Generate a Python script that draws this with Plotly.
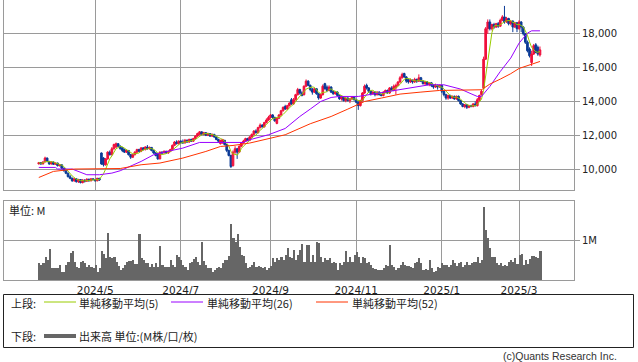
import pandas as pd
import plotly.graph_objects as go

W, H = 638, 362

# ---------------- data ----------------
holidays = ['2024-04-29', '2024-05-03', '2024-05-06', '2024-07-15', '2024-08-12',
            '2024-09-16', '2024-09-23', '2024-10-14', '2024-11-04', '2024-12-31',
            '2025-01-01', '2025-01-02', '2025-01-03', '2025-01-13', '2025-02-11',
            '2025-02-24']
dates = [d for d in pd.bdate_range('2024-03-22', '2025-03-17')
         if d.strftime('%Y-%m-%d') not in holidays]

opens = [10300,10380,10300,10420,10650,10450,10300,10420,10280,10350,
         10200,10250,10050,9900,9750,9550,9450,9300,9420,9250,
         9380,9200,9350,9280,9400,9300,9420,9380,9300,9450,
         10950,10650,10250,10600,11000,10850,11200,11300,11500,11350,
         11250,11150,11000,11100,10850,10700,10850,11000,11150,11050,
         11250,11150,11300,11200,11280,11100,10950,10900,10600,11000,
         10950,11050,10950,11050,11150,11400,11600,11500,11650,11600,
         11550,11700,11600,11750,11650,11800,11950,12050,12200,12050,
         12150,12000,12100,11950,12050,11900,11750,11500,11550,11700,
         11450,11100,10800,10200,11000,11200,11000,11350,11550,11650,
         11800,11700,11900,12050,12250,12150,12450,12600,12500,12750,
         12900,13050,13200,13050,12700,13000,13200,13450,13700,13550,
         13750,14100,13850,14100,14400,14700,14500,14400,14900,15200,
         14950,14700,14550,14750,14450,14200,14400,15050,14850,14650,
         14850,14600,14450,14550,14350,14150,14250,14050,14200,14050,
         14150,14250,14100,13950,13750,14050,14500,14950,14800,14600,
         14450,14550,14400,14550,14400,14350,14550,14650,14500,14800,
         14650,14800,14950,15150,15400,15650,15450,15300,15150,15250,
         15150,15300,15200,15400,15200,15050,15150,15000,15100,14950,
         14850,14950,14850,14950,14600,14400,14200,14350,14200,14300,
         14150,14300,14050,13850,13700,13800,13650,13750,13700,13850,
         13750,14100,14400,14800,16500,18300,18700,18300,18550,18400,
         18600,18450,18800,19000,18700,18900,18600,18750,18400,18650,
         18300,18700,18400,18000,17500,17100,16300,16800,17350,17200,
         16750]
highs = [10420,10400,10450,10730,10680,10480,10460,10440,10380,10380,
         10300,10270,10080,9950,9800,9650,9500,9480,9450,9420,
         9400,9400,9380,9450,9420,9460,9450,9420,9480,9480,
         10980,10700,10650,11050,11100,11300,11500,11570,11520,11400,
         11300,11200,11150,11120,10900,10900,11050,11200,11200,11300,
         11300,11350,11420,11330,11300,11150,11000,10950,11040,11050,
         11100,11080,11100,11200,11450,11650,11700,11700,11700,11750,
         11780,11750,11800,11800,11850,12000,12150,12250,12230,12200,
         12180,12150,12130,12100,12080,11950,11800,11730,11780,11720,
         11480,11150,10850,11100,11350,11250,11400,11600,11730,11850,
         11850,11950,12100,12300,12350,12500,12700,12650,12800,13000,
         13150,13250,13250,13100,13050,13250,13500,13700,13800,13800,
         13950,14200,14200,14450,14800,14750,14600,14950,15300,15250,
         15000,14800,14800,14780,14500,14450,15000,15100,14950,14950,
         14900,14650,14600,14600,14400,14300,14300,14250,14250,14200,
         14300,14300,14150,14000,14100,14550,15000,15050,14850,14650,
         14600,14600,14600,14600,14450,14600,14700,14700,14850,14900,
         15000,15050,15200,15500,15700,15700,15500,15350,15350,15300,
         15400,15350,15600,15450,15250,15200,15200,15150,15150,15000,
         15050,15000,15000,14950,14650,14450,14400,14400,14350,14350,
         14350,14350,14100,13900,13850,13850,13800,13800,13900,14000,
         14200,14400,14700,16650,18400,18850,18850,18600,18650,18650,
         18700,18900,19100,19650,19000,18950,18800,18800,18700,18700,
         18800,18750,18450,18050,17600,17200,17000,17400,17450,17300,
         17250]
lows = [10280,10260,10280,10400,10400,10250,10270,10240,10250,10150,
        10150,10000,9850,9700,9500,9400,9250,9250,9200,9180,
        9150,9150,9200,9250,9260,9280,9330,9270,9280,9300,
        10250,10150,10200,10550,10800,10800,11150,11250,11300,11150,
        11000,10950,10950,10800,10600,10650,10800,10950,11000,11000,
        11100,11100,11150,11150,11050,10900,10750,10550,10580,10900,
        10920,10900,10900,11000,11100,11350,11450,11450,11500,11500,
        11500,11550,11550,11600,11600,11750,11900,12000,12000,12000,
        11950,11950,11900,11900,11850,11700,11600,11450,11500,11400,
        11000,10750,10060,10150,10900,10600,10950,11300,11500,11600,
        11650,11650,11850,12000,12100,12100,12400,12450,12450,12700,
        12850,13000,12950,12800,12650,12950,13150,13400,13500,13500,
        13700,13800,13800,14050,14350,14400,14300,14350,14850,14900,
        14600,14400,14500,14400,14100,14150,14350,14700,14550,14600,
        14500,14400,14400,14300,14100,14050,14000,13950,14000,13900,
        14100,14050,13900,13500,13700,14000,14450,14700,14500,14350,
        14400,14300,14350,14350,14300,14300,14500,14450,14450,14600,
        14600,14400,14900,15100,15350,15400,15100,15050,15100,15050,
        15100,15100,15150,15150,15000,14950,14950,14900,14850,14750,
        14800,14700,14800,14500,14300,14100,14100,14150,14150,14100,
        14100,14000,13800,13650,13600,13550,13600,13650,13650,13700,
        13700,14000,14350,14750,16450,18000,18200,18200,18300,18350,
        18350,18400,18750,18600,18650,18500,18500,18100,18350,18100,
        18250,18100,17900,17400,16900,16600,16100,16750,16850,16700,
        16650]
closes = [10380,10300,10420,10650,10450,10300,10420,10280,10350,10200,
          10250,10050,9900,9750,9550,9450,9300,9420,9250,9380,
          9200,9350,9280,9400,9300,9420,9380,9300,9450,9350,
          10300,10250,10600,11000,10850,11200,11450,11500,11350,11200,
          11100,11000,11100,10850,10700,10850,11000,11150,11050,11250,
          11150,11300,11200,11280,11100,10950,10800,10600,11000,10950,
          11050,10950,11050,11150,11400,11600,11500,11650,11550,11550,
          11700,11600,11750,11650,11800,11950,12100,12200,12050,12150,
          12000,12100,11950,12050,11900,11750,11650,11700,11750,11450,
          11100,10800,10150,11000,11200,11000,11350,11550,11650,11800,
          11700,11900,12050,12250,12150,12450,12600,12500,12750,12900,
          13050,13200,13050,12850,13000,13200,13450,13650,13550,13750,
          13900,13850,14100,14400,14700,14500,14350,14900,15200,14950,
          14700,14550,14750,14450,14200,14400,14900,14750,14650,14850,
          14550,14450,14550,14350,14150,14250,14050,14200,14050,14150,
          14250,14100,13950,13750,14050,14500,14900,14800,14600,14450,
          14550,14400,14550,14400,14350,14550,14650,14500,14800,14650,
          14900,14950,15150,15400,15600,15450,15200,15150,15250,15150,
          15300,15200,15400,15200,15050,15150,15000,15100,14950,14850,
          14950,14850,14950,14600,14400,14200,14350,14200,14300,14150,
          14300,14050,13850,13700,13800,13650,13750,13700,13850,13750,
          14100,14350,14600,16500,18300,18700,18300,18550,18400,18600,
          18450,18800,19000,18700,18900,18600,18750,18400,18650,18300,
          18700,18400,18000,17500,17000,16700,16800,17300,16900,16800,
          17050]
volumes = [0.43,0.37,0.43,0.57,0.50,0.77,0.29,0.29,0.29,0.29,
           0.37,0.21,0.21,0.37,0.46,0.68,0.72,0.46,0.33,0.29,
           0.45,0.47,0.42,0.33,0.37,0.33,0.29,0.37,0.21,0.29,
           0.72,0.64,0.54,1.17,0.58,0.54,0.57,0.46,0.35,0.25,
           0.29,0.37,0.46,0.48,0.47,0.50,0.39,0.39,1.15,0.54,
           0.50,0.42,0.43,0.33,0.39,0.33,0.42,0.33,0.85,0.37,
           0.33,0.33,0.33,0.50,0.37,0.33,0.62,0.57,0.50,0.37,
           0.33,0.25,0.42,0.46,0.52,0.58,0.46,0.37,0.95,0.48,
           0.37,0.29,0.29,0.21,0.25,0.29,0.33,0.29,0.42,0.50,
           0.50,0.60,1.40,1.04,0.96,1.14,0.83,0.63,0.60,0.42,
           0.29,0.33,0.37,0.46,0.33,0.35,0.33,0.29,0.33,0.25,
           0.30,0.35,0.54,0.45,0.54,0.50,0.58,0.50,0.62,0.79,
           0.58,0.55,0.75,0.50,0.62,0.75,0.89,0.46,0.88,0.88,
           0.46,0.63,0.46,0.94,0.92,0.58,0.46,0.54,0.50,0.56,
           0.42,0.46,0.42,0.25,0.42,0.37,0.46,0.72,0.46,0.58,
           0.46,0.62,0.69,0.58,0.42,0.58,0.56,0.42,0.46,0.37,
           0.31,0.27,0.25,0.25,0.25,0.29,0.37,0.35,0.88,0.37,
           0.33,0.25,0.31,0.37,0.46,0.37,0.35,0.35,0.33,0.29,
           0.42,0.46,0.54,0.42,0.25,0.27,0.25,0.50,0.29,0.19,
           0.23,0.33,0.31,0.42,0.37,0.37,0.33,0.37,0.50,0.42,
           0.35,0.42,0.46,0.33,0.37,0.46,0.37,0.42,0.46,0.46,
           0.58,0.42,0.50,1.82,1.25,1.06,0.81,0.58,0.58,0.42,
           0.37,0.42,0.35,0.37,0.35,0.46,0.50,0.46,0.54,0.39,
           0.62,0.64,0.37,0.50,0.39,0.52,0.61,0.61,0.58,0.55,
           0.72]

# moving averages (day index, value)
ma26_idx = [0, 8, 9, 16, 23, 29, 35, 39, 49, 55, 63, 69, 77, 98, 101, 110, 118, 125,
            130, 135, 140, 144, 153, 163, 173, 183, 187, 194, 202, 207, 210, 212, 216,
            221, 226, 230, 234, 236, 240]
ma26_val = [10095, 10095, 10000, 10000, 9663, 9663, 9760, 9900, 10450, 10846, 11080,
            11240, 11573, 11573, 11733, 12028, 12400, 13110, 13547, 13997, 14233, 14295,
            14295, 14494, 14730, 14925, 14985, 14985, 14730, 14453, 14295, 14295, 14884,
            15770, 16563, 17450, 18040, 18177, 18177]
ma52_idx = [0, 7, 17, 39, 49, 58, 69, 80, 87, 93, 101, 109, 118, 130, 140, 148, 156,
            164, 173, 183, 192, 212, 216, 221, 226, 230, 235, 240]
ma52_val = [9500, 9860, 10000, 10030, 10254, 10355, 10650, 11040, 11336, 11395, 11537,
            11774, 12028, 12680, 13110, 13547, 13997, 14197, 14434, 14552, 14650, 14689,
            15025, 15320, 15640, 15950, 16167, 16364]

price_ticks = [10000, 12000, 14000, 16000, 18000]

# ---------------- derived ----------------
xs = [d.strftime('%Y-%m-%d') for d in dates]
ma5 = pd.Series(closes).rolling(5, min_periods=1).mean().tolist()

tick_x, tick_t, seen = [], [], set()
for d in dates:
    key = (d.year, d.month)
    if key in seen:
        continue
    seen.add(key)
    if d.month % 2 == 1 and d.day <= 7:
        tick_x.append(d.strftime('%Y-%m-%d'))
        tick_t.append(f'{d.year}/{d.month}')

RED = '#f0103c'
BLUE = '#0a3a96'
GRID = '#9a9a9a'
C5, C26, C52 = '#99cc00', '#9900ff', '#ff3300'

def px(v):
    return v / W

def py(v):
    return 1 - v / H

fig = go.Figure()
fig.add_trace(go.Candlestick(
    x=xs, open=opens, high=highs, low=lows, close=closes,
    increasing=dict(line=dict(color=RED, width=1), fillcolor=RED),
    decreasing=dict(line=dict(color=BLUE, width=1), fillcolor=BLUE),
    whiskerwidth=0, xaxis='x', yaxis='y', showlegend=False))
fig.add_trace(go.Scatter(x=xs, y=ma5, mode='lines', line=dict(color=C5, width=1),
                         xaxis='x', yaxis='y', showlegend=False))
fig.add_trace(go.Scatter(x=[xs[i] for i in ma26_idx], y=ma26_val, mode='lines',
                         line=dict(color=C26, width=1), xaxis='x', yaxis='y', showlegend=False))
fig.add_trace(go.Scatter(x=[xs[i] for i in ma52_idx], y=ma52_val, mode='lines',
                         line=dict(color=C52, width=1), xaxis='x', yaxis='y', showlegend=False))
fig.add_trace(go.Bar(x=xs, y=volumes, marker=dict(color='#666666', line=dict(width=0)),
                     xaxis='x2', yaxis='y2', showlegend=False))

xdom = [px(3.5), px(574)]
xrange = [-16.9, 256.3]
pfont = dict(family='DejaVu Sans', size=10, color='#222222')
dfont = dict(family='DejaVu Sans', size=10.5, color='#222222')
common_x = dict(type='category', categoryorder='array', categoryarray=xs, range=xrange,
                domain=xdom, tickvals=tick_x, showgrid=True, gridcolor=GRID, gridwidth=1,
                showline=True, mirror=True, linecolor=GRID, linewidth=1, zeroline=False,
                ticks='', fixedrange=True)

fig.update_layout(
    width=W, height=H, margin=dict(l=0, r=0, t=0, b=0),
    paper_bgcolor='white', plot_bgcolor='white',
    boxgap=0.2, boxgroupgap=0, bargap=0,
    showlegend=False,
    xaxis=dict(**common_x, anchor='y', showticklabels=False, rangeslider=dict(visible=False)),
    yaxis=dict(domain=[py(190), py(0)], range=[8760, 20000], side='right',
               tickvals=price_ticks, ticktext=[f'{v:,}' for v in price_ticks],
               ticks='outside', ticklen=5, tickcolor=GRID, tickfont=pfont,
               showgrid=True, gridcolor=GRID, showline=True, mirror=True,
               linecolor=GRID, linewidth=1, zeroline=False, anchor='x', fixedrange=True),
    xaxis2=dict(**common_x, anchor='y2', showticklabels=True, ticktext=tick_t,
                tickfont=dfont),
    yaxis2=dict(domain=[py(280), py(201)], range=[0, 1.975], side='right',
                tickvals=[1], ticktext=['1M'], ticks='outside', ticklen=5,
                tickcolor=GRID, tickfont=pfont, showgrid=True, gridcolor=GRID,
                showline=True, mirror=True, linecolor=GRID, linewidth=1,
                zeroline=False, anchor='x2', fixedrange=True),
)

# legend box and texts
jp = 'Noto Sans CJK JP'
shapes = [
    dict(type='rect', xref='paper', yref='paper', x0=px(3.5), x1=px(633.5),
         y0=py(347.5), y1=py(294.5), line=dict(color='#222222', width=1)),
    dict(type='line', xref='paper', yref='paper', x0=px(44), x1=px(76), y0=py(302), y1=py(302),
         line=dict(color=C5, width=1)),
    dict(type='line', xref='paper', yref='paper', x0=px(171), x1=px(203), y0=py(302), y1=py(302),
         line=dict(color=C26, width=1)),
    dict(type='line', xref='paper', yref='paper', x0=px(316), x1=px(348), y0=py(302), y1=py(302),
         line=dict(color=C52, width=1)),
    dict(type='line', xref='paper', yref='paper', x0=px(44), x1=px(76), y0=py(336), y1=py(336),
         line=dict(color='#666666', width=4)),
]
fig.update_layout(shapes=shapes)

def note(text, x, y, anchor='left', size=11, family=jp, color='#222222'):
    fig.add_annotation(text=text, xref='paper', yref='paper', x=px(x), y=py(y),
                       xanchor=anchor, yanchor='middle', showarrow=False,
                       font=dict(family=family, size=size, color=color))

note('上段:', 9, 303)
note('単純移動平均(5)', 77, 303)
note('単純移動平均(26)', 205, 303)
note('単純移動平均(52)', 350, 303)
note('下段:', 9, 336)
note('出来高 単位:(M株/口/枚)', 77, 336)
note('単位: M', 7, 210)
note('(c)Quants Research Inc.', 619, 356, anchor='right', family='Liberation Sans',
     size=10.5, color='#333333')

fig.write_html('out.html', config={'displayModeBar': False},
               post_script="document.body.style.margin='0';document.body.style.overflow='hidden';")
